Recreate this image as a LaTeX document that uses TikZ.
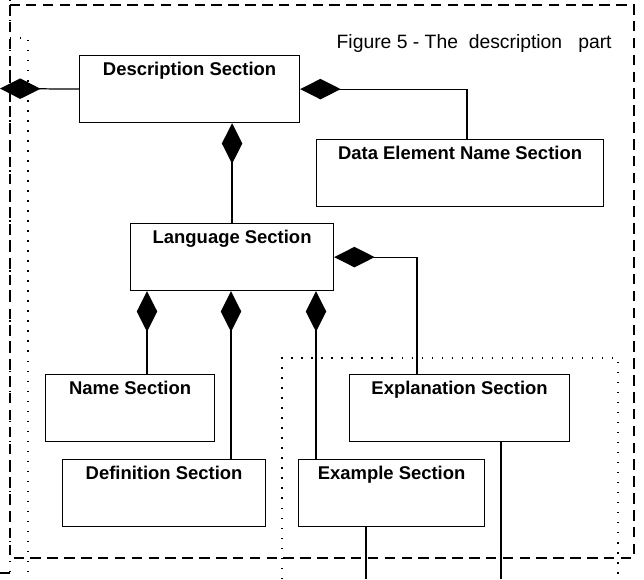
\documentclass[tikz,border=0pt]{standalone}
\usepackage{fontspec}
\setmainfont{Liberation Sans}
\usetikzlibrary{arrows.meta}

\begin{document}
\begin{tikzpicture}%
	[x={(0.020000cm, 0.000000cm)},
	y={(0.000000cm, -0.020000cm)},
	frame/.style={line width=0.7pt, dash pattern=on 6pt off 3.6pt},
	dotline/.style={line width=0.8pt, dash pattern=on 0.8pt off 4.9pt},
	edge/.style={line width=0.7pt, color=black},
	comp/.style={edge, {Diamond[length=0.81cm, width=0.41cm]}-},
	compend/.style={edge, -{Diamond[length=0.81cm, width=0.41cm]}},
	box/.style={draw, line width=0.7pt, anchor=north west, inner sep=0pt,
		text height=0.40cm, text depth=0.94cm,
		font=\fontsize{10.5}{12}\selectfont\bfseries},
	caption/.style={anchor=base east, inner sep=0pt, font=\fontsize{11}{13}\selectfont}]
%
\useasboundingbox (0,0) rectangle (644,579);
%%
%%
%% Frames in the back
%%
\draw[frame] (10,5) rectangle (634,558);
\draw[dotline] (10,0) -- (10,579);
\draw[dotline] (10,38) -- (28,38) -- (28,579);
\draw[dotline] (282,579) -- (282,358) -- (618,358) -- (618,579);
\draw[edge] (0,573) -- (10,573);
%%
\node[caption] (fig) at (612,48) {Figure 5 - The~ description~~ part};
%%
%%
%% Drawing the boxes
%%
\node[box, minimum width=4.40cm] (desc) at (79,55) {Description Section};
\node[box, minimum width=5.74cm] (data) at (316,139) {Data Element Name Section};
\node[box, minimum width=4.06cm] (lang) at (130,223) {Language Section};
\node[box, minimum width=3.38cm] (name) at (45,374) {Name Section};
\node[box, minimum width=4.06cm] (defn) at (62,459) {Definition Section};
\node[box, minimum width=4.40cm] (expl) at (349,374) {Explanation Section};
\node[box, minimum width=3.72cm] (exmp) at (298,459) {Example Section};
%%
\coordinate (outL) at (0,88.5);
\coordinate (dataIn) at (467,139);
\coordinate (explIn) at (417,374);
\coordinate (nameIn) at (147,374);
\coordinate (defnIn) at (231,459);
\coordinate (exmpIn) at (316,459);
\coordinate (exmpOut) at (366,579);
\coordinate (explOut) at (501,579);
%%
%%
%% Drawing the connectors
%%
\draw[compend] (desc.west) -- (outL);
\draw[comp] (desc.east) -| (dataIn);
\draw[compend] (lang.north) -- (lang.north |- desc.south);
\draw[comp] (lang.east) -| (explIn);
\draw[comp] (lang.south -| nameIn) -- (nameIn);
\draw[comp] (lang.south -| defnIn) -- (defnIn);
\draw[comp] (lang.south -| exmpIn) -- (exmpIn);
\draw[edge] (exmp.south -| exmpOut) -- (exmpOut);
\draw[edge] (expl.south -| explOut) -- (explOut);

\end{tikzpicture}
\end{document}
